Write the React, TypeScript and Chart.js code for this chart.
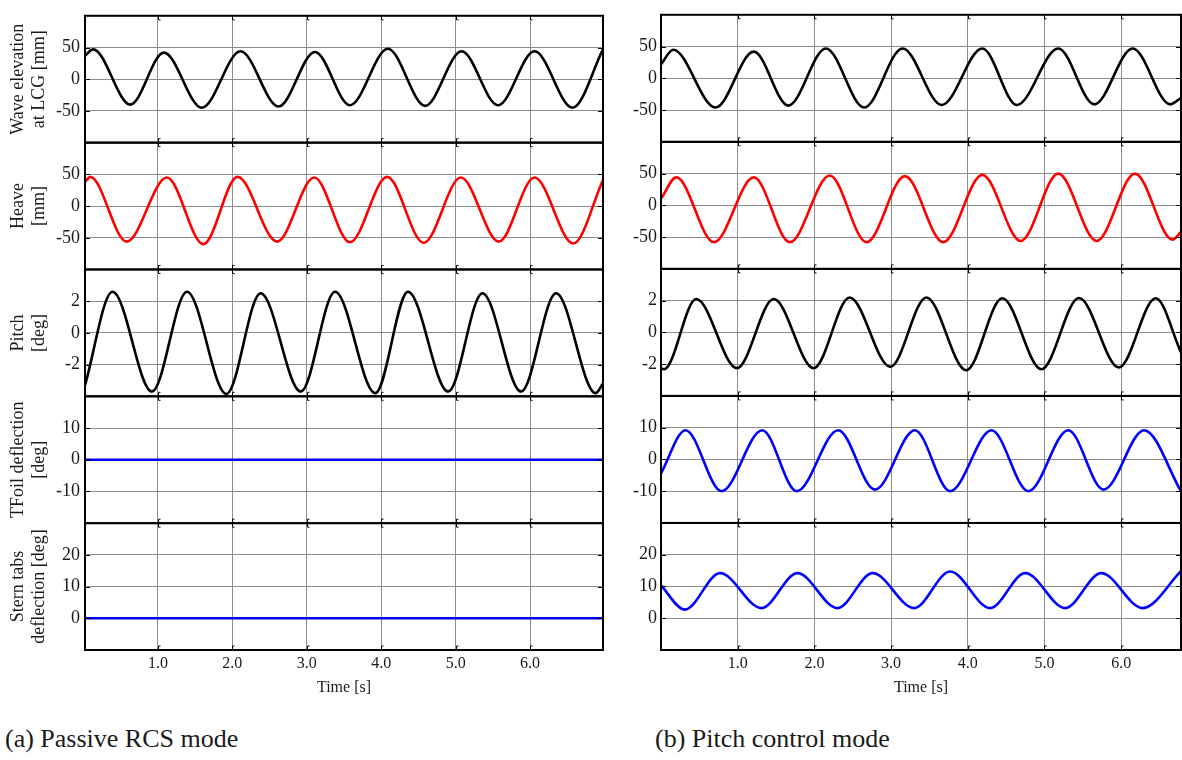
import React, { useEffect, useRef } from "react";
import { Chart, registerables } from "chart.js";

Chart.register(...registerables);

// ---------- data (time [s], value) ----------
const xTicks = [1, 2, 3, 4, 5, 6];
const leftRange = [0.02, 6.98];
const rightRange = [0, 6.78];

// (a) Passive RCS mode
const waveLeft: [number, number][] = [[0.02, 37], [0.13, 47], [0.63, -40], [1.08, 42], [1.59, -45], [2.11, 44], [2.62, -43], [3.11, 43], [3.58, -41], [4.09, 48], [4.59, -42], [5.08, 44], [5.57, -41], [6.06, 44], [6.57, -45], [6.98, 47]];
const heaveLeft: [number, number][] = [[0.02, 38], [0.09, 46], [0.58, -56], [1.12, 45], [1.61, -60], [2.07, 46], [2.6, -56], [3.1, 45], [3.58, -57], [4.08, 46], [4.57, -58], [5.07, 45], [5.58, -56], [6.06, 45], [6.58, -59], [6.98, 41]];
const pitchLeft: [number, number][] = [[0.02, -3.3], [0.39, 2.6], [0.92, -3.7], [1.39, 2.6], [1.92, -3.85], [2.38, 2.5], [2.92, -3.7], [3.38, 2.6], [3.92, -3.8], [4.36, 2.6], [4.9, -3.7], [5.36, 2.5], [5.88, -3.7], [6.35, 2.5], [6.88, -3.8], [6.98, -3.2]];
const tfoilLeft: [number, number][] = [[0.02, 0], [6.98, 0]];
const sternLeft: [number, number][] = [[0.02, 0], [6.98, 0]];

// (b) Pitch control mode
const waveRight: [number, number][] = [[0, 22], [0.16, 45], [0.71, -46], [1.21, 42], [1.66, -43], [2.15, 47], [2.65, -46], [3.15, 47], [3.66, -42], [4.19, 47], [4.64, -42], [5.18, 47], [5.65, -41], [6.15, 47], [6.64, -41], [6.78, -31]];
const heaveRight: [number, number][] = [[0, 10.5], [0.2, 44], [0.69, -58], [1.21, 44], [1.68, -58], [2.2, 47], [2.68, -58], [3.18, 46], [3.68, -58], [4.19, 48], [4.69, -56], [5.18, 50], [5.68, -56], [6.18, 50], [6.67, -54], [6.78, -42]];
const pitchRight: [number, number][] = [[0, -2.25], [0.04, -2.32], [0.46, 2.1], [0.99, -2.25], [1.47, 2.1], [1.99, -2.25], [2.46, 2.2], [2.99, -2.17], [3.46, 2.2], [3.98, -2.38], [4.45, 2.15], [4.96, -2.32], [5.45, 2.17], [5.97, -2.21], [6.45, 2.15], [6.78, -1.26]];
const tfoilRight: [number, number][] = [[0, -4.4], [0.32, 9.2], [0.79, -10], [1.32, 9.2], [1.77, -10], [2.31, 9.2], [2.79, -9.5], [3.31, 9.2], [3.77, -10], [4.31, 9.2], [4.79, -10], [5.31, 9.2], [5.77, -9.5], [6.3, 9.2], [6.78, -10]];
const sternRight: [number, number][] = [[0, 10.3], [0.31, 2.7], [0.77, 14.2], [1.31, 3.2], [1.78, 14.2], [2.3, 3.2], [2.76, 14.2], [3.3, 3.2], [3.77, 14.7], [4.29, 3.2], [4.75, 14.2], [5.27, 3.2], [5.74, 14.2], [6.28, 3.2], [6.78, 14.8]];

// panel axes
const panelTitles: string[][] = [
  ["Wave elevation", "at LCG [mm]"],
  ["Heave", "[mm]"],
  ["Pitch", "[deg]"],
  ["TFoil deflection", "[deg]"],
  ["Stern tabs", "deflection [deg]"],
];
const panelMin = [-100, -100, -4, -20, -10];
const panelMax = [100, 100, 4, 20, 30];
const panelTicks = [[-50, 0, 50], [-50, 0, 50], [-2, 0, 2], [-10, 0, 10], [0, 10, 20]];
const seriesColors = ["#000000", "#ff0000", "#000000", "#0000ff", "#0000ff"];
const panelIds = ["y1", "y2", "y3", "y4", "y5"];

const FONT = '"Liberation Serif", "Times New Roman", serif';

const framePlugin = {
  id: "panelFrame",
  afterDatasetsDraw(chart: any) {
    const { ctx, chartArea } = chart;
    const xs = chart.scales.x;
    ctx.save();
    ctx.strokeStyle = "#000";
    ctx.lineWidth = 1;
    ctx.beginPath();
    panelIds.forEach((id) => {
      const s = chart.scales[id];
      s.ticks.forEach((t: any) => {
        const py = Math.round(s.getPixelForValue(t.value)) + 0.5;
        ctx.moveTo(chartArea.left, py);
        ctx.lineTo(chartArea.left + 5, py);
        ctx.moveTo(chartArea.right - 5, py);
        ctx.lineTo(chartArea.right, py);
      });
      xs.ticks.forEach((t: any) => {
        const px = Math.round(xs.getPixelForValue(t.value)) + 0.5;
        ctx.moveTo(px, s.top);
        ctx.lineTo(px, s.top + 4);
        ctx.lineTo(px + 2, s.top + 4);
        ctx.moveTo(px, s.bottom);
        ctx.lineTo(px, s.bottom - 4);
        ctx.lineTo(px + 2, s.bottom - 4);
      });
    });
    ctx.stroke();
    ctx.lineWidth = 2;
    panelIds.forEach((id) => {
      const s = chart.scales[id];
      ctx.strokeRect(chartArea.left, s.top, chartArea.right - chartArea.left, s.bottom - s.top);
    });
    ctx.restore();
  },
};

function makeConfig(side: "left" | "right"): any {
  const isLeft = side === "left";
  const range = isLeft ? leftRange : rightRange;
  const series = isLeft
    ? [waveLeft, heaveLeft, pitchLeft, tfoilLeft, sternLeft]
    : [waveRight, heaveRight, pitchRight, tfoilRight, sternRight];

  const datasets = series.map((pts, i) => ({
    data: pts.map(([x, y]) => ({ x, y })),
    yAxisID: panelIds[i],
    borderColor: seriesColors[i],
    borderWidth: 2.6,
    pointRadius: 0,
    fill: false,
    cubicInterpolationMode: "monotone",
  }));

  const scales: any = {
    x: {
      type: "linear",
      position: "bottom",
      min: range[0],
      max: range[1],
      afterBuildTicks: (s: any) => {
        s.ticks = xTicks.map((v) => ({ value: v }));
      },
      afterFit: (s: any) => {
        s.height = 50;
      },
      ticks: {
        autoSkip: false,
        maxRotation: 0,
        padding: 4,
        color: "#1a1a1a",
        font: { family: FONT, size: 16 },
        callback: (v: any) => Number(v).toFixed(1),
      },
      grid: { color: "#8c8c8c", lineWidth: 1, drawTicks: false },
      border: { display: false },
      title: {
        display: true,
        text: "Time [s]",
        color: "#1a1a1a",
        font: { family: FONT, size: 16, lineHeight: 1.2 },
        padding: { top: 0, bottom: 3 },
      },
    },
  };

  panelIds.forEach((id, i) => {
    scales[id] = {
      type: "linear",
      position: "left",
      stack: "col",
      stackWeight: 1,
      weight: 5 - i,
      min: panelMin[i],
      max: panelMax[i],
      afterBuildTicks: (s: any) => {
        s.ticks = panelTicks[i].map((v) => ({ value: v }));
      },
      afterFit: (s: any) => {
        s.width = isLeft ? 85 : 46;
      },
      ticks: {
        autoSkip: false,
        padding: isLeft ? 5 : 4,
        color: "#1a1a1a",
        font: { family: FONT, size: 18 },
        callback: (v: any) => String(v),
      },
      grid: { color: "#8c8c8c", lineWidth: 1, drawTicks: false },
      border: { display: false },
      title: isLeft
        ? {
            display: true,
            text: panelTitles[i],
            color: "#1a1a1a",
            font: { family: FONT, size: 18, lineHeight: 1.2 },
            padding: { top: 7, bottom: 0 },
          }
        : { display: false },
    };
  });

  return {
    type: "line",
    data: { datasets },
    options: {
      animation: false,
      responsive: false,
      devicePixelRatio: 1,
      parsing: true,
      layout: { padding: { top: 7, bottom: 0, left: 0, right: isLeft ? 17 : 1 } },
      plugins: { legend: { display: false }, tooltip: { enabled: false } },
      scales,
    },
    plugins: [framePlugin],
  };
}

function Column({ side, left, width }: { side: "left" | "right"; left: number; width: number }) {
  const ref = useRef<HTMLCanvasElement>(null);
  useEffect(() => {
    const chart = new Chart(ref.current as HTMLCanvasElement, makeConfig(side));
    return () => chart.destroy();
  }, [side]);
  return (
    <canvas
      ref={ref}
      width={width}
      height={700}
      style={{ position: "absolute", left, top: 0, width, height: 700 }}
    />
  );
}

const captionStyle: React.CSSProperties = {
  position: "absolute",
  top: 724,
  fontFamily: FONT,
  fontSize: 26,
  lineHeight: "30px",
  color: "#1a1a1a",
  whiteSpace: "nowrap",
};

export default function App() {
  return (
    <div
      style={{
        position: "absolute",
        left: 0,
        top: 0,
        width: 1182,
        height: 760,
        overflow: "hidden",
        background: "#fff",
      }}
    >
      <Column side="left" left={0} width={620} />
      <Column side="right" left={615} width={567} />
      <div style={{ ...captionStyle, left: 5 }}>(a) Passive RCS mode</div>
      <div style={{ ...captionStyle, left: 655 }}>(b) Pitch control mode</div>
    </div>
  );
}
